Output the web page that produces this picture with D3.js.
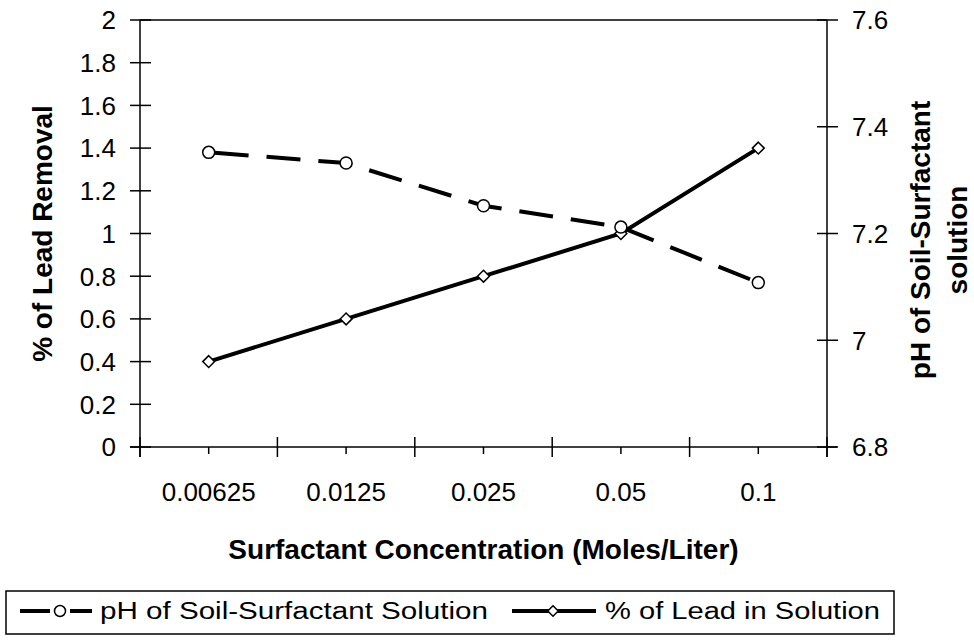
<!DOCTYPE html>
<html>
<head>
<meta charset="utf-8">
<script src="https://cdn.jsdelivr.net/npm/d3@7"></script>
<style>
  body { margin: 0; background: #fff; }
  text { font-family: "Liberation Sans", Arial, sans-serif; fill: #000; }
</style>
</head>
<body>
<div id="chart"></div>
<script>
// data
const concentrations = ["0.00625", "0.0125", "0.025", "0.05", "0.1"];
const phValues = [7.352, 7.332, 7.252, 7.212, 7.108];
const leadValues = [0.4, 0.6, 0.8, 1.0, 1.4];
const leftTicks = [0, 0.2, 0.4, 0.6, 0.8, 1, 1.2, 1.4, 1.6, 1.8, 2];
const rightTicks = [6.8, 7, 7.2, 7.4, 7.6];

const width = 974, height = 642;
const margin = {top: 20, left: 140, right: 147, bottom: 195};
const plotW = width - margin.left - margin.right,
      plotH = height - margin.top - margin.bottom;
const tickFont = "26px", titleFont = "28px";

const svg = d3.select("#chart")
  .append("svg")
    .attr("width", width)
    .attr("height", height);

const x = d3.scaleBand()
  .domain(concentrations)
  .range([margin.left, margin.left + plotW])
  .paddingInner(0).paddingOuter(0);

const yLeft = d3.scaleLinear()
  .domain([0, 2])
  .range([margin.top + plotH, margin.top]);

const yRight = d3.scaleLinear()
  .domain([6.8, 7.6])
  .range([margin.top + plotH, margin.top]);

const cx = d => x(d) + x.bandwidth() / 2;
const x0 = margin.left, x1 = margin.left + plotW;
const yb = margin.top + plotH;

// frame
svg.append("line").attr("x1", x0).attr("x2", x1).attr("y1", margin.top).attr("y2", margin.top)
  .attr("stroke", "#000").attr("stroke-width", 1.5);

// left axis
const gl = svg.append("g").attr("transform", `translate(${x0},0)`);
gl.append("line").attr("y1", margin.top).attr("y2", yb + 10).attr("stroke", "#000").attr("stroke-width", 1.5);
gl.selectAll("line.tick").data(leftTicks).join("line")
  .attr("class", "tick")
  .attr("x1", -10).attr("x2", 11)
  .attr("y1", d => yLeft(d)).attr("y2", d => yLeft(d))
  .attr("stroke", "#000").attr("stroke-width", 1.5);
gl.selectAll("text").data(leftTicks).join("text")
  .attr("x", -24).attr("y", d => yLeft(d))
  .attr("dy", "0.36em")
  .attr("text-anchor", "end")
  .style("font-size", tickFont)
  .text(d => String(+d.toFixed(1)));

// right axis
const gr = svg.append("g").attr("transform", `translate(${x1},0)`);
gr.append("line").attr("y1", margin.top).attr("y2", yb + 10).attr("stroke", "#000").attr("stroke-width", 1.5);
gr.selectAll("line.tick").data(rightTicks).join("line")
  .attr("class", "tick")
  .attr("x1", -10).attr("x2", 11)
  .attr("y1", d => yRight(d)).attr("y2", d => yRight(d))
  .attr("stroke", "#000").attr("stroke-width", 1.5);
gr.selectAll("text").data(rightTicks).join("text")
  .attr("x", 25).attr("y", d => yRight(d))
  .attr("dy", "0.36em")
  .style("font-size", tickFont)
  .text(d => d.toFixed(1).replace(/\.0$/, ""));

// bottom axis
svg.append("line").attr("x1", x0 - 10).attr("x2", x1 + 10).attr("y1", yb).attr("y2", yb)
  .attr("stroke", "#000").attr("stroke-width", 1.5);
const bounds = concentrations.map(d => x(d)).concat([x1]);
svg.selectAll("line.xmajor").data(bounds).join("line")
  .attr("class", "xmajor")
  .attr("x1", d => d).attr("x2", d => d)
  .attr("y1", yb - 10).attr("y2", yb + 10)
  .attr("stroke", "#000").attr("stroke-width", 1.5);
svg.selectAll("line.xminor").data(concentrations).join("line")
  .attr("class", "xminor")
  .attr("x1", cx).attr("x2", cx)
  .attr("y1", yb).attr("y2", yb + 7)
  .attr("stroke", "#000").attr("stroke-width", 1.5);
svg.selectAll("text.xlab").data(concentrations).join("text")
  .attr("class", "xlab")
  .attr("x", cx).attr("y", yb + 45)
  .attr("dy", "0.36em")
  .attr("text-anchor", "middle")
  .style("font-size", tickFont)
  .text(d => d);

// axis titles
svg.append("text")
  .attr("x", (x0 + x1) / 2).attr("y", 549)
  .attr("dy", "0.36em")
  .attr("text-anchor", "middle")
  .style("font-size", titleFont).style("font-weight", "bold")
  .text("Surfactant Concentration (Moles/Liter)");

svg.append("text")
  .attr("transform", `translate(42,${(margin.top + yb) / 2}) rotate(-90)`)
  .attr("dy", "0.36em")
  .attr("text-anchor", "middle")
  .style("font-size", titleFont).style("font-weight", "bold")
  .text("% of Lead Removal");

const rt = svg.append("text")
  .attr("transform", `translate(930,240) rotate(-90)`)
  .attr("text-anchor", "middle")
  .style("font-size", titleFont).style("font-weight", "bold");
rt.append("tspan").attr("x", 0).attr("dy", 0).text("pH of Soil-Surfactant");
rt.append("tspan").attr("x", 0).attr("dy", 37).text("solution");

// lines
const lineLead = d3.line().x((d, i) => cx(concentrations[i])).y(d => yLeft(d));
const linePh = d3.line().x((d, i) => cx(concentrations[i])).y(d => yRight(d));

svg.append("path").datum(phValues)
  .attr("d", linePh)
  .attr("fill", "none").attr("stroke", "#000").attr("stroke-width", 4)
  .attr("stroke-dasharray", "34,18").attr("stroke-dashoffset", -6);

svg.append("path").datum(leadValues)
  .attr("d", lineLead)
  .attr("fill", "none").attr("stroke", "#000").attr("stroke-width", 4);

const diamond = d3.symbol().type(d3.symbolDiamond2).size(90);

svg.selectAll("path.dia").data(leadValues).join("path")
  .attr("class", "dia")
  .attr("d", diamond)
  .attr("transform", (d, i) => `translate(${cx(concentrations[i])},${yLeft(d)})`)
  .attr("fill", "#fff").attr("stroke", "#000").attr("stroke-width", 1.5);

svg.selectAll("circle.ph").data(phValues).join("circle")
  .attr("class", "ph")
  .attr("cx", (d, i) => cx(concentrations[i])).attr("cy", d => yRight(d))
  .attr("r", 6)
  .attr("fill", "#fff").attr("stroke", "#000").attr("stroke-width", 1.5);

// legend
const lg = svg.append("g");
lg.append("rect")
  .attr("x", 6).attr("y", 591).attr("width", 888).attr("height", 43)
  .attr("fill", "#fff").attr("stroke", "#000").attr("stroke-width", 1.5);

const ly = 611;
lg.append("line").attr("x1", 20).attr("x2", 50).attr("y1", ly).attr("y2", ly)
  .attr("stroke", "#000").attr("stroke-width", 4);
lg.append("line").attr("x1", 70).attr("x2", 92).attr("y1", ly).attr("y2", ly)
  .attr("stroke", "#000").attr("stroke-width", 4);
lg.append("circle").attr("cx", 60).attr("cy", ly).attr("r", 5.5)
  .attr("fill", "#fff").attr("stroke", "#000").attr("stroke-width", 1.5);
lg.append("text").attr("x", 100).attr("y", ly).attr("dy", "0.36em")
  .attr("textLength", 388).attr("lengthAdjust", "spacingAndGlyphs")
  .style("font-size", "23px")
  .text("pH of Soil-Surfactant Solution");

lg.append("line").attr("x1", 512).attr("x2", 596).attr("y1", ly).attr("y2", ly)
  .attr("stroke", "#000").attr("stroke-width", 4);
lg.append("path").attr("d", d3.symbol().type(d3.symbolDiamond2).size(70))
  .attr("transform", `translate(553,${ly})`)
  .attr("fill", "#fff").attr("stroke", "#000").attr("stroke-width", 1.5);
lg.append("text").attr("x", 605).attr("y", ly).attr("dy", "0.36em")
  .attr("textLength", 275).attr("lengthAdjust", "spacingAndGlyphs")
  .style("font-size", "23px")
  .text("% of Lead in Solution");
</script>
</body>
</html>
